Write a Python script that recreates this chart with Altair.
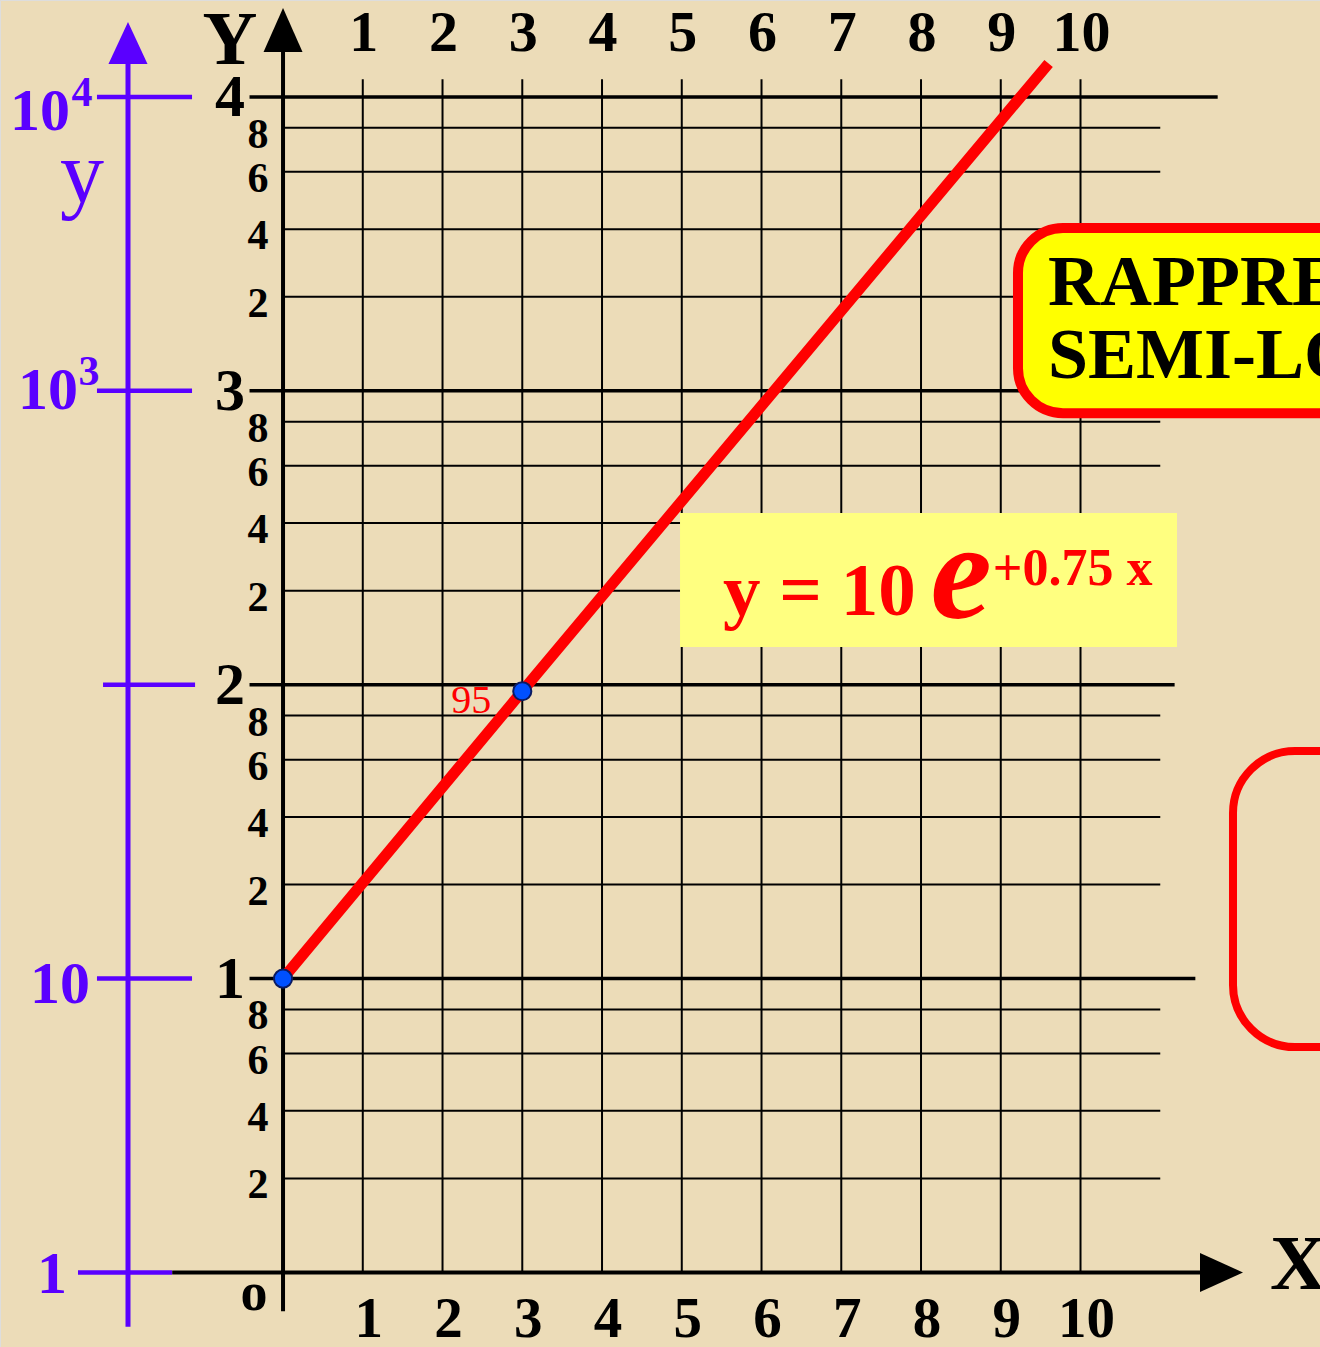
import math

import altair as alt
import pandas as pd

# ---- values -------------------------------------------------------------
x_ticks = list(range(1, 11))                 # linear X units
decades = [0, 1, 2, 3, 4]                    # Y = log10(y)
major_labels = ["1", "2", "3", "4"]
minor_labels = ["2", "4", "6", "8"]
minor_offsets = [0.32, 0.55, 0.745, 0.895]   # hand-ruled minor lines inside a decade
major_right = [11.44, 11.18, 11.6, 11.72]    # right end of the thick lines at Y = 1..4

curve_x = [0, 3, 9.6]
curve_y = [10, 95, 13000]
point_x = [0, 3]
point_y = [10, 95]

FONT = "Liberation Serif"
BLUE = "#5a00ff"
RED = "#ff0000"

# ---- scales: the whole canvas is the plotting area ----------------------
W, H = 1320, 1347
xs = alt.Scale(domain=[-3.549, 13.003], nice=False, zero=False)
ys = alt.Scale(domain=[-0.2535, 4.3297], nice=False, zero=False)


def X(f):
    return alt.X(f"{f}:Q", scale=xs, axis=None)


def Y(f):
    return alt.Y(f"{f}:Q", scale=ys, axis=None)


def rules(df, **kw):
    enc = {"x": X("x"), "y": Y("y")}
    if "x2" in df:
        enc["x2"] = alt.X2("x2:Q")
    if "y2" in df:
        enc["y2"] = alt.Y2("y2:Q")
    return alt.Chart(df).mark_rule(**kw).encode(**enc)


def texts(df, **kw):
    opts = dict(font=FONT, align="center", baseline="middle")
    opts.update(kw)
    return alt.Chart(df).mark_text(**opts).encode(x=X("x"), y=Y("y"), text="t:N")


def arrow(x, y, path, size, color):
    return alt.Chart(pd.DataFrame({"x": [x], "y": [y]})).mark_point(
        shape=path, size=size, filled=True, color=color, opacity=1, strokeWidth=0
    ).encode(x=X("x"), y=Y("y"))


# ---- grid ---------------------------------------------------------------
vgrid = rules(pd.DataFrame({"x": x_ticks, "y": 0.0, "y2": 4.06}),
              color="black", strokeWidth=2)

minor_rows = [{"x": 0.0, "x2": 11.0, "y": d + o}
              for d in decades[:-1] for o in minor_offsets]
minor = rules(pd.DataFrame(minor_rows), color="black", strokeWidth=2)

major = rules(pd.DataFrame({"x": -0.42, "x2": major_right, "y": decades[1:]}),
              color="black", strokeWidth=3.5)

x_axis = rules(pd.DataFrame({"x": [-1.39], "x2": [11.5], "y": [0.0]}),
               color="black", strokeWidth=4)
y_axis = rules(pd.DataFrame({"x": [0.0], "y": [-0.132], "y2": [4.153]}),
               color="black", strokeWidth=4)
y_arrow = arrow(0.0, 4.228, "M0,-1L0.886,1L-0.886,1Z", 1936, "black")
x_arrow = arrow(11.768, 0.0, "M1,0L-1,0.907L-1,-0.907Z", 1849, "black")

# ---- blue value axis ----------------------------------------------------
b_axis = rules(pd.DataFrame({"x": [-1.944], "y": [-0.185], "y2": [4.112]}),
               color=BLUE, strokeWidth=5)
b_arrow = arrow(-1.944, 4.183, "M0,-1L0.93,1L-0.93,1Z", 1764, BLUE)
b_ticks = rules(pd.DataFrame({
    "y": [4, 3, 2, 1, 0],
    "x": [-2.333, -2.333, -2.257, -2.333, -2.571],
    "x2": [-1.141, -1.141, -1.103, -1.141, -1.392],
}), color=BLUE, strokeWidth=4.5)

b_main = texts(pd.DataFrame({
    "t": ["10", "10", "10", "1"],
    "x": [-3.047, -2.947, -2.796, -2.897],
    "y": [3.949, 2.999, 0.978, -0.009],
}), fontSize=60, fontWeight="bold", color=BLUE)
b_exp = texts(pd.DataFrame({"t": ["4", "3"], "x": [-2.52, -2.433], "y": [4.014, 3.064]}),
              fontSize=42, fontWeight="bold", color=BLUE)
b_name = texts(pd.DataFrame({"t": ["y"], "x": [-2.52], "y": [3.643]}),
               fontSize=88, color=BLUE, baseline="alphabetic")

# ---- black labels -------------------------------------------------------
top_nums = texts(pd.DataFrame({"t": [str(v) for v in x_ticks], "x": x_ticks, "y": 4.215}),
                 fontSize=58, fontWeight="bold", color="black", dx=1)
bot_nums = texts(pd.DataFrame({"t": [str(v) for v in x_ticks], "x": x_ticks, "y": -0.16}),
                 fontSize=57, fontWeight="bold", color="black", dx=6)
maj_lab = texts(pd.DataFrame({"t": major_labels, "x": -0.665, "y": decades[1:]}),
                fontSize=60, fontWeight="bold", color="black", dy=1)
min_rows = [{"t": lab, "x": -0.313, "y": d + o}
            for d in decades[:-1] for lab, o in zip(minor_labels, minor_offsets)]
min_lab = texts(pd.DataFrame(min_rows), fontSize=42, fontWeight="bold", color="black", dy=7)
axis_names = texts(pd.DataFrame({"t": ["Y"], "x": [-0.665], "y": [4.19]}),
                   fontSize=76, fontWeight="bold", color="black")
x_name = texts(pd.DataFrame({"t": ["X"], "x": [12.376], "y": [0.022]}),
               fontSize=78, fontWeight="bold", color="black", align="left")
origin = texts(pd.DataFrame({"t": ["o"], "x": [-0.364], "y": [-0.128]}),
               fontSize=54, fontWeight="bold", color="black", baseline="alphabetic")

# ---- exponential curve and marked points --------------------------------
curve_df = pd.DataFrame({"x": curve_x, "y": [math.log10(v) for v in curve_y]})
curve = alt.Chart(curve_df).mark_line(color=RED, strokeWidth=11, strokeCap="butt").encode(
    x=X("x"), y=Y("y"))

pts_df = pd.DataFrame({"x": point_x, "v": point_y, "y": [math.log10(v) for v in point_y]})
pts = alt.Chart(pts_df).mark_point(
    shape="circle", size=330, filled=True, fill="#0050ff", stroke="#0a1a60",
    strokeWidth=2, opacity=1
).encode(x=X("x"), y=Y("y"))

pt_label = alt.Chart(pts_df).transform_filter("datum.x > 0").mark_text(
    font=FONT, fontSize=40, color=RED, dx=-51, dy=10, align="center", baseline="middle"
).encode(x=X("x"), y=Y("y"), text=alt.Text("v:Q", format="d"))

# ---- equation panel -----------------------------------------------------
eq_box = alt.Chart(pd.DataFrame({"x": [4.978], "x2": [11.21], "y": [2.584], "y2": [2.128]})).mark_rect(
    color="#ffff80").encode(x=X("x"), x2="x2:Q", y=Y("y"), y2="y2:Q")
eq_main = texts(pd.DataFrame({"t": ["y = 10"], "x": [5.517], "y": [2.237]}),
                fontSize=75, fontWeight="bold", color=RED, align="left", baseline="alphabetic")
eq_e = texts(pd.DataFrame({"t": ["e"], "x": [8.12], "y": [2.228]}),
             fontSize=138, fontWeight="bold", fontStyle="italic", color=RED,
             align="left", baseline="alphabetic")
eq_exp = texts(pd.DataFrame({"t": ["+0.75 x"], "x": [8.9], "y": [2.339]}),
               fontSize=52, fontWeight="bold", color=RED, align="left", baseline="alphabetic")

# ---- title panel and empty frame at the right edge ----------------------
title_box = alt.Chart(pd.DataFrame({"x": [9.216], "x2": [14.5], "y": [3.554], "y2": [2.924]})).mark_rect(
    fill="#ffff00", stroke=RED, strokeWidth=10, cornerRadius=45, clip=True
).encode(x=X("x"), x2="x2:Q", y=Y("y"), y2="y2:Q")
title_txt = texts(pd.DataFrame({"t": ["RAPPRESENTAZIONE", "SEMI-LOGARITMICA"],
                                "x": [9.592, 9.592], "y": [3.292, 3.044]}),
                  fontSize=72, fontWeight="bold", color="black", align="left",
                  baseline="alphabetic", clip=True)
frame = alt.Chart(pd.DataFrame({"x": [11.912], "x2": [14.5], "y": [1.774], "y2": [0.767]})).mark_rect(
    fillOpacity=0, fill="#ffffff", stroke=RED, strokeWidth=8, cornerRadius=62, clip=True
).encode(x=X("x"), x2="x2:Q", y=Y("y"), y2="y2:Q")

chart = alt.layer(
    vgrid, minor, major, x_axis, y_axis, y_arrow, x_arrow,
    b_axis, b_arrow, b_ticks, b_main, b_exp, b_name,
    top_nums, bot_nums, maj_lab, min_lab, axis_names, x_name, origin,
    curve, pts, pt_label,
    eq_box, eq_main, eq_e, eq_exp,
    title_box, title_txt, frame,
).properties(
    width=W, height=H, padding=0,
    autosize=alt.AutoSizeParams(type="none"),
).configure_view(strokeWidth=0).configure(background="#ecdcb8")

chart.save("out.html", embed_options={"renderer": "svg", "actions": False})
